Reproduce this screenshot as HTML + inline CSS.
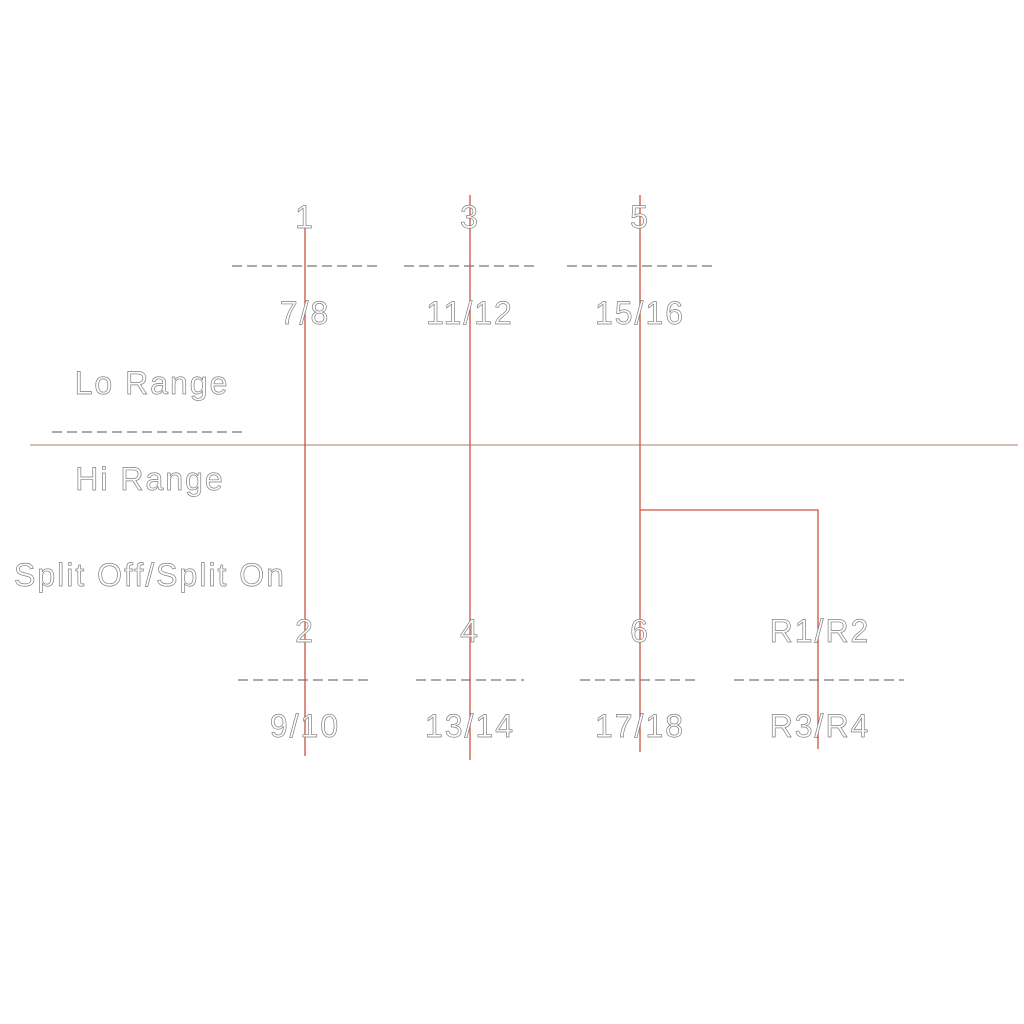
<!DOCTYPE html>
<html><head><meta charset="utf-8"><style>
html,body{margin:0;padding:0;background:#fff;width:1024px;height:1024px;overflow:hidden}
text{font-family:"Liberation Sans","DejaVu Sans",sans-serif;font-size:32px;fill:#fff;stroke:#808080;stroke-width:0.7;text-anchor:middle;letter-spacing:2px}
.d{stroke:#777;stroke-width:1.3;stroke-dasharray:10,5;fill:none}
.r{stroke:#c9553f;stroke-width:1.3;fill:none}
</style></head><body>
<svg width="1024" height="1024" viewBox="0 0 1024 1024">
<line class="r" x1="30" y1="445" x2="1018" y2="445" style="stroke:#b07a70;stroke-width:1"/>
<line class="r" x1="305" y1="228" x2="305" y2="756"/>
<line class="r" x1="470" y1="195" x2="470" y2="760"/>
<line class="r" x1="640" y1="195" x2="640" y2="752"/>
<polyline class="r" points="640,510 818,510 818,749"/>
<line class="d" x1="232" y1="266" x2="378" y2="266"/>
<line class="d" x1="404" y1="266" x2="538" y2="266"/>
<line class="d" x1="567" y1="266" x2="712" y2="266"/>
<line class="d" x1="52" y1="432" x2="246" y2="432"/>
<line class="d" x1="238" y1="680" x2="372" y2="680"/>
<line class="d" x1="416" y1="680" x2="524" y2="680"/>
<line class="d" x1="580" y1="680" x2="700" y2="680"/>
<line class="d" x1="734" y1="680" x2="904" y2="680"/>
<text x="305" y="228">1</text>
<text x="470" y="228">3</text>
<text x="640" y="228">5</text>
<text x="305" y="324">7/8</text>
<text x="470" y="324">11/12</text>
<text x="640" y="324">15/16</text>
<text x="152" y="394">Lo Range</text>
<text x="150" y="490">Hi Range</text>
<text x="150" y="586">Split Off/Split On</text>
<text x="305" y="642">2</text>
<text x="470" y="642">4</text>
<text x="640" y="642">6</text>
<text x="820" y="642">R1/R2</text>
<text x="305" y="737">9/10</text>
<text x="470" y="737">13/14</text>
<text x="640" y="737">17/18</text>
<text x="820" y="737">R3/R4</text>
</svg>
</body></html>
